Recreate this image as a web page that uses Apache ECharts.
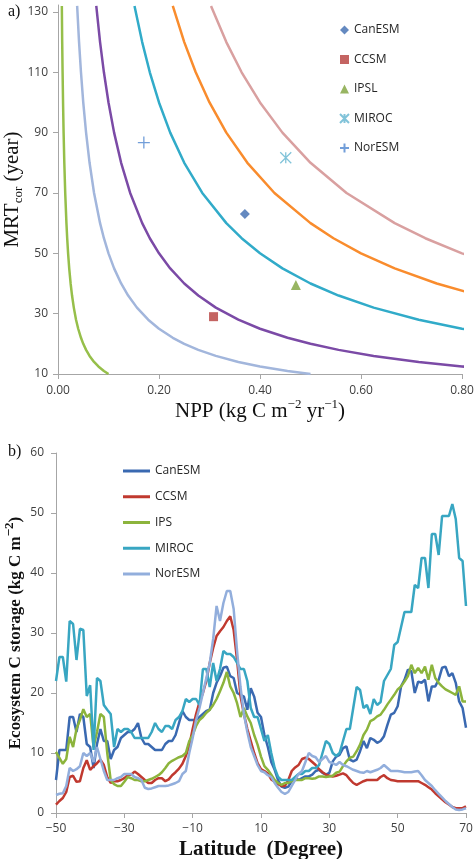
<!DOCTYPE html>
<html>
<head>
<meta charset="utf-8">
<script src="https://cdn.jsdelivr.net/npm/echarts@6/dist/echarts.min.js"></script>
<style>
    html, body { margin: 0; padding: 0; background: #fff; }
    #chart { width: 474px; height: 859px; }
</style>
</head>
<body>
<div id="chart"></div>
<script>
// panel a: model points (NPP, MRTcor)
const modelNames = ['CanESM', 'CCSM', 'IPSL', 'MIROC', 'NorESM'];
const modelNpp = [0.37, 0.308, 0.471, 0.451, 0.17];
const modelMrt = [63, 29, 39.5, 81.7, 86.7];

// panel a: iso-storage curves, NPP read at each MRT level (beyond 0.80 is clipped)
const mrtLevels = [132, 120, 110, 100, 90, 80, 70, 60, 55, 50, 45, 40, 36, 32, 28, 25, 22, 20, 18, 16, 14, 12.5, 11, 10];
const nppGreen = [0.0076, 0.0083, 0.0091, 0.01, 0.0111, 0.0125, 0.0143, 0.0167, 0.0182, 0.02, 0.0222, 0.025, 0.0278, 0.0313, 0.0357, 0.04, 0.0455, 0.05, 0.0556, 0.0625, 0.0714, 0.08, 0.0909, 0.1];
const nppLightBlue = [0.0379, 0.0417, 0.0455, 0.05, 0.0556, 0.0625, 0.0714, 0.0833, 0.0909, 0.1, 0.1111, 0.125, 0.1389, 0.1563, 0.1786, 0.2, 0.2273, 0.25, 0.2778, 0.3125, 0.3571, 0.4, 0.4545, 0.5];
const nppPurple = [0.0758, 0.0833, 0.0909, 0.1, 0.1111, 0.125, 0.1429, 0.1667, 0.1818, 0.2, 0.2222, 0.25, 0.2778, 0.3125, 0.3571, 0.4, 0.4545, 0.5, 0.5556, 0.625, 0.7143, 0.8, 0.9091, 1.0];
const nppCyan = [0.1515, 0.1667, 0.1818, 0.2, 0.2222, 0.25, 0.2857, 0.3333, 0.3636, 0.4, 0.4444, 0.5, 0.5556, 0.625, 0.7143, 0.8, 0.9091];
const nppOrange = [0.2273, 0.25, 0.2727, 0.3, 0.3333, 0.375, 0.4286, 0.5, 0.5455, 0.6, 0.6667, 0.75, 0.8333];
const nppPink = [0.303, 0.3333, 0.3636, 0.4, 0.4444, 0.5, 0.5714, 0.6667, 0.7273, 0.8, 0.8889];

// panel a tick labels
const nppTicks = [0, 0.2, 0.4, 0.6, 0.8];
const mrtTicks = [10, 30, 50, 70, 90, 110, 130];

// panel b: latitude (degree) and ecosystem C storage (kg C m-2)
const latitude = [
    -50, -49, -48, -47, -46, -45, -44, -43, -42, -41,
    -40, -39, -38, -37, -36, -35, -34, -33, -32, -31,
    -30, -29, -28, -27, -26, -25, -24, -23, -22, -21,
    -20, -19, -18, -17, -16, -15, -14, -13, -12, -11,
    -10, -9, -8, -7, -6, -5, -4, -3, -2, -1,
    0, 1, 2, 3, 4, 5, 6, 7, 8, 9,
    10, 11, 12, 13, 14, 15, 16, 17, 18, 19,
    20, 21, 22, 23, 24, 25, 26, 27, 28, 29,
    30, 31, 32, 33, 34, 35, 36, 37, 38, 39,
    40, 41, 42, 43, 44, 45, 46, 47, 48, 49,
    50, 51, 52, 53, 54, 55, 56, 57, 58, 59,
    60, 61, 62, 63, 64, 65, 66, 67, 68, 69, 70
];
const profileNames = ['CanESM', 'CCSM', 'IPS', 'MIROC', 'NorESM'];
const canesm = [
    5.5, 10.5, 10.5, 10.5, 16, 16, 13.5, 16.5, 16, 11.5,
    11, 7.5, 11.5, 14, 12, 12, 9, 10.5, 11, 12.5,
    13, 13.5, 13.5, 14, 15, 12.5, 11.5, 11.5, 11, 10.5,
    10.5, 10.5, 11.5, 12, 12, 13, 15, 17, 16, 15.5,
    15.5, 15.5, 16, 16.5, 17, 17.2, 20, 21.7, 22.8, 24.2,
    24.4, 22.8, 22.5, 20, 19.7, 19.4, 17.2, 20.8, 19.4, 16.7,
    16, 13, 11, 8.5, 7.2, 5.5, 4.4, 4.2, 4.4, 5.3,
    5.8, 5.5, 5.8, 6.1, 6.1, 6.4, 7, 7.2, 6.7, 6.4,
    6.7, 8.6, 9.4, 9.7, 10.8, 11.1, 8.9, 8.6, 8.9, 10.3,
    12, 10.8, 12.5, 12.2, 11.7, 12, 12.8, 14.7, 16.4, 16.7,
    17.8, 21.1, 22.2, 23.9, 23.6, 20, 21.9, 21.7, 22.2, 18.6,
    21.1, 21.1, 22.2, 24.2, 24.4, 22.8, 23.3, 21.7, 18.6, 17.5, 14.2
];
const ccsm = [
    1.4, 2, 2.5, 3.5, 6, 6.2, 5.2, 5.3, 7.5, 8.8,
    7.2, 7.8, 8.3, 8.9, 8, 6, 5, 5.3, 5.3, 5.5,
    5.8, 6.3, 6.4, 6.9, 6.5, 6, 5.5, 5, 5, 5.5,
    5.8, 5.8, 5.3, 5.6, 6.3, 6.8, 7.4, 8.2, 9.5, 11.2,
    14, 16.5, 18.5, 20, 22, 25, 27.5, 29.5, 30.3, 31,
    32, 32.8, 30.5, 25.5, 19.5, 16.5, 14, 12, 10, 8.3,
    7.3, 7, 6.6, 5.6, 5.2, 4.8, 4.5, 4.5, 5.5, 7,
    7.6, 8, 9, 9.2, 9, 8.5, 8, 7.3, 6.8, 6.4,
    6.2, 6.1, 6.2, 6.4, 6.6, 6.3, 5.6, 5, 4.7, 5,
    5.3, 5.5, 5.5, 5.5, 5.5, 6, 6.3, 5.8, 5.5, 5.4,
    5.3, 5.3, 5.3, 5.3, 5.3, 5.3, 5.3, 5, 4.7, 4.3,
    3.9, 3.3, 2.8, 2.3, 1.8, 1.4, 1, 0.8, 0.8, 0.8, 1.1
];
const ips = [
    10.2, 9.2, 8.2, 9, 12.7, 11, 14, 15.5, 17.3, 16,
    16.5, 11, 13.5, 16.5, 16, 10, 5.5, 4.8, 4.5, 4.5,
    5.2, 6, 5.8, 5.5, 5.5, 5.3, 5.3, 5.5, 5.7, 6,
    6.3, 6.8, 7.5, 8.3, 8.7, 9, 9.3, 9.5, 10, 12,
    13, 14.5, 15.5, 16, 16.7, 17.2, 18, 19, 20.3, 21.7,
    23.5, 21.1, 20, 18.3, 16, 17.5, 16.1, 15, 13, 11.4,
    9.4, 7.8, 7.2, 6.4, 5.5, 5, 4.7, 5, 5, 5.3,
    5.5, 5.5, 5.5, 5.8, 5.8, 5.7, 5.8, 6.1, 6.1, 6,
    6.1, 6.2, 6.7, 6.9, 7.8, 8.6, 9.2, 9.4, 10.3, 11.4,
    13, 13.9, 15.3, 15.6, 16.1, 16.4, 17.2, 18.1, 18.9, 19.7,
    20.6, 21.1, 21.9, 22.8, 24.7, 23.3, 24.2, 23.3, 24.4, 22.2,
    24.7, 22.5, 21.7, 21.1, 20.6, 20.3, 20, 19.7, 21.1, 18.6, 18.6
];
const miroc = [
    22, 26, 26, 21.9, 32, 31.5, 25.5, 30.7, 30.5, 19.5,
    21.3, 10.5, 22.5, 22, 18, 17.2, 16.5, 11, 14, 13.5,
    14, 14, 13.5, 12.5, 12.5, 12.5, 12.5, 12.5, 13.5, 15,
    14, 13.5, 14.5, 14.5, 14, 15.5, 16, 17, 19, 18.5,
    19, 19, 18, 24, 24, 21, 25, 22, 24, 27,
    26.5, 26.5, 26, 25, 24, 24, 22, 17.5, 16, 16,
    14, 12, 13, 10, 7.5, 6, 5.5, 5.5, 5.5, 5.5,
    6, 6.5, 6.5, 7, 7, 7.5, 7.5, 8, 10, 12,
    11.5, 10, 9.5, 10, 12, 14, 14, 17.5, 21, 20.5,
    17.5, 18, 16.5, 19, 18, 18.5, 22, 23, 24, 28,
    28.5, 31, 33.5, 33.5, 33.5, 38, 37.5, 42.5, 42.5, 37.5,
    46.5, 46.5, 43, 49.5, 49.5, 49.5, 51.5, 49, 42.5, 42, 34.5
];
const noresm = [
    3, 3.2, 3.3, 4.5, 7.5, 7, 7.3, 7.8, 10, 9.5,
    10, 8.5, 11, 9, 7, 5.5, 5.5, 5.5, 5.8, 6,
    6.5, 6.5, 6.5, 6, 5.8, 5.5, 4.2, 4, 4.1, 4.3,
    4.5, 4.5, 4.5, 4.6, 4.8, 5, 5.3, 6.5, 7, 10,
    12.5, 15.5, 17.5, 20, 22.5, 25, 29, 34.5, 32, 35,
    37, 37, 34, 27, 21, 16.5, 13.5, 11, 9.5, 8,
    7, 6.8, 6.3, 6, 5, 4.2, 3.5, 3.2, 3.5, 4.5,
    5.5, 6.5, 7, 8.5, 10, 9.5, 9.3, 8.5, 9, 9.5,
    8.5, 8.3, 8, 8.5, 8, 7.8, 7.5, 7.2, 7, 6.8,
    6.7, 7, 6.8, 7, 7.2, 7.5, 8, 7.5, 7, 7,
    7, 6.9, 6.8, 6.8, 6.8, 6.9, 7, 6.3, 5.5, 5,
    4.5, 3.8, 3.2, 2.6, 2, 1.5, 1, 0.6, 0.5, 0.6, 0.8
];

// panel b tick labels
const latTicks = [-50, -30, -10, 10, 30, 50, 70];
const storageTicks = [0, 10, 20, 30, 40, 50, 60];


{
    const chart = echarts.init(document.getElementById('chart'));

    const SANS = 'Open Sans';
    const SERIF = 'Liberation Serif';
    const AXIS_GRAY = '#a6a6a6';
    const LABEL_COLOR = '#404040';
    const PREFIX_A = 'a:'; // panel a series share names with panel b, keep them apart

    const minus = v => String(v).replace('-', '\u2212');

    function pairs(xs, ys) {
        return ys.map((y, i) => [xs[i], y]);
    }

    // common axis look
    function axisBase(gridIndex) {
        return {
            type: 'value',
            gridIndex: gridIndex,
            nameLocation: 'middle',
            nameMoveOverlap: false,
            axisLine: { show: true, onZero: false, lineStyle: { color: AXIS_GRAY, width: 1 } },
            axisTick: { show: true, length: 5, lineStyle: { color: AXIS_GRAY } },
            splitLine: { show: false },
            axisLabel: { color: LABEL_COLOR, fontFamily: SANS, fontSize: 12 }
        };
    }

    const titleRich = (size, bold) => ({
        m: { fontFamily: SERIF, fontSize: size, fontWeight: bold ? 'bold' : 'normal', color: '#111', lineHeight: 26, verticalAlign: 'middle' },
        sub: { fontFamily: SERIF, fontSize: 13, fontWeight: bold ? 'bold' : 'normal', color: '#111', lineHeight: 14, verticalAlign: 'bottom' },
        sup: { fontFamily: SERIF, fontSize: 13, fontWeight: bold ? 'bold' : 'normal', color: '#111', lineHeight: 14, verticalAlign: 'top' }
    });

    const xA = Object.assign(axisBase(0), {
        min: 0, max: 0.8, interval: 0.2,
        name: '{m|NPP (kg C m}{sup|\u22122}{m| yr}{sup|\u22121}{m|)}',
        nameGap: 24,
        nameTextStyle: { rich: titleRich(21, false) }
    });
    xA.axisLabel.customValues = nppTicks;
    xA.axisLabel.formatter = v => v.toFixed(2);
    xA.axisLabel.margin = 11;
    xA.axisTick.customValues = nppTicks;

    const yA = Object.assign(axisBase(0), {
        min: 10, max: 132.3,
        name: '{m|MRT}{sub|cor}{m| (year)}',
        nameGap: 33,
        nameTextStyle: { rich: titleRich(21, false) }
    });
    yA.axisLabel.customValues = mrtTicks;
    yA.axisLabel.margin = 10;
    yA.axisTick.customValues = mrtTicks;

    const xB = Object.assign(axisBase(1), {
        min: -50, max: 70, interval: 20,
        name: '{m|Latitude  (Degree)}',
        nameGap: 24,
        nameTextStyle: { rich: titleRich(21, true) }
    });
    xB.axisLabel.customValues = latTicks;
    xB.axisLabel.formatter = minus;
    xB.axisLabel.margin = 10;
    xB.axisTick.customValues = latTicks;

    const yB = Object.assign(axisBase(1), {
        min: 0, max: 60, interval: 10,
        name: '{m|Ecosystem C storage (kg C m}{sup|\u22122}{m|)}',
        nameGap: 27,
        nameTextStyle: { rich: titleRich(17, true) }
    });
    yB.axisLabel.customValues = storageTicks;
    yB.axisLabel.margin = 12;
    yB.axisTick.customValues = storageTicks;

    // iso-storage curves
    const curves = [
        { npp: nppGreen, color: '#96bf4a' },
        { npp: nppLightBlue, color: '#a2b6dc' },
        { npp: nppPurple, color: '#7b4aa6' },
        { npp: nppCyan, color: '#31abc9' },
        { npp: nppOrange, color: '#f98c2d' },
        { npp: nppPink, color: '#d9a0a0' }
    ];
    const curveSeries = curves.map(c => ({
        type: 'line',
        xAxisIndex: 0,
        yAxisIndex: 0,
        data: pairs(c.npp, mrtLevels.slice(0, c.npp.length)),
        symbol: 'none',
        clip: true,
        silent: true,
        lineStyle: { color: c.color, width: 2.5, join: 'round' }
    }));

    // model points
    const markers = [
        { symbol: 'diamond', size: 10, color: '#3d6bb0' },
        { symbol: 'rect', size: 9, color: '#b53d3b' },
        { symbol: 'triangle', size: 10, color: '#7ea23b' },
        { symbol: 'path://M0,0L10,10M10,0L0,10M5,0L5,10', size: 11, stroke: '#62b4cf' },
        { symbol: 'path://M5,0L5,10M0,5L10,5', size: 12, stroke: '#4f86cf' }
    ];
    const pointSeries = modelNames.map((name, i) => {
        const mk = markers[i];
        return {
            name: PREFIX_A + name,
            type: 'scatter',
            xAxisIndex: 0,
            yAxisIndex: 0,
            data: [[modelNpp[i], modelMrt[i]]],
            symbol: mk.symbol,
            symbolSize: mk.size,
            itemStyle: mk.stroke
                ? { color: 'rgba(0,0,0,0)', borderColor: mk.stroke, borderWidth: 1.3 }
                : { color: mk.color }
        };
    });

    // latitude profiles
    const profileValues = [canesm, ccsm, ips, miroc, noresm];
    const profileColors = ['#3a69b1', '#c0392f', '#8cb43c', '#38a6c2', '#92aedc'];
    const profileSeries = profileNames.map((name, i) => ({
        name: name,
        type: 'line',
        xAxisIndex: 1,
        yAxisIndex: 1,
        data: pairs(latitude, profileValues[i]),
        symbol: 'none',
        color: profileColors[i],
        lineStyle: { color: profileColors[i], width: 2.5 }
    }));

    const option = {
        animation: false,
        backgroundColor: '#fff',
        grid: [
            { left: 58, top: 5, width: 404, height: 369, outerBoundsMode: 'none' },
            { left: 56, top: 453, width: 410, height: 360, outerBoundsMode: 'none' }
        ],
        xAxis: [xA, xB],
        yAxis: [yA, yB],
        legend: [{
            data: modelNames.map(n => PREFIX_A + n),
            formatter: n => n.slice(PREFIX_A.length),
            orient: 'vertical',
            left: 339,
            top: 23,
            padding: 0,
            itemWidth: 9,
            itemHeight: 9,
            itemGap: 15.5,
            textStyle: { fontFamily: SANS, fontSize: 12, color: '#262626', lineHeight: 14 }
        }, {
            data: profileNames,
            orient: 'vertical',
            left: 123,
            top: 464,
            padding: 0,
            icon: 'rect',
            itemWidth: 27,
            itemHeight: 3,
            itemGap: 11.75,
            itemStyle: { borderWidth: 0 },
            textStyle: { fontFamily: SANS, fontSize: 12, color: '#262626', lineHeight: 14 }
        }],
        graphic: [{
            type: 'text', left: 8, top: 4,
            style: { text: 'a)', font: '16px "Liberation Serif"', fill: '#111' }
        }, {
            type: 'text', left: 8, top: 444,
            style: { text: 'b)', font: '16px "Liberation Serif"', fill: '#111' }
        }],
        series: curveSeries.concat(pointSeries, profileSeries)
    };

    chart.setOption(option);
}
</script>
</body>
</html>
